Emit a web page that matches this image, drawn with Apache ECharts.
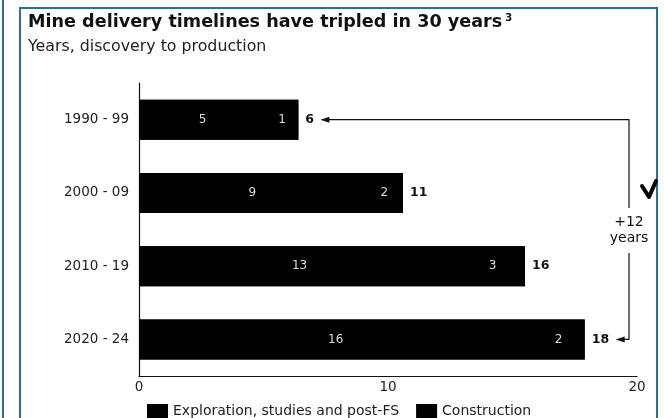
<!DOCTYPE html>
<html>
<head>
<meta charset="utf-8">
<script src="https://cdn.jsdelivr.net/npm/echarts@6/dist/echarts.min.js"></script>
<style>
html,body{margin:0;padding:0;background:#fff;}
#main{width:664px;height:418px;}
</style>
</head>
<body>
<div id="main"></div>
<script>
var categories = ['1990 - 99', '2000 - 09', '2010 - 19', '2020 - 24'];
var exploration = [5.1, 9.1, 12.9, 15.8];
var construction = [1.3, 1.5, 2.6, 2.1];
var explorationLabels = ['5', '9', '13', '16'];
var constructionLabels = ['1', '2', '3', '2'];
var totalLabels = ['6', '11', '16', '18'];
var xTicks = [0, 10, 20];

var totals = exploration.map(function (v, i) { return v + construction[i]; });
var FONT = 'DejaVu Sans';
var chart = echarts.init(document.getElementById('main'));

var option = {
  animation: false,
  backgroundColor: '#fff',
  title: {
    left: 28, top: 13, padding: 0,
    text: '{t|Mine delivery timelines have tripled in 30 years}{s|3}',
    subtext: 'Years, discovery to production',
    itemGap: 7,
    textStyle: {
      rich: {
        t: { fontFamily: FONT, fontWeight: 'bold', fontSize: 17.6, color: '#111' },
        s: { fontFamily: FONT, fontSize: 10, color: '#111', verticalAlign: 'top', padding: [0, 0, 9, 3] }
      }
    },
    subtextStyle: { fontFamily: FONT, fontSize: 15.8, color: '#222' }
  },
  legend: {
    left: 147, top: 404, padding: 0,
    itemWidth: 21, itemHeight: 14, itemGap: 17,
    icon: 'rect',
    textStyle: { fontFamily: FONT, fontSize: 14, color: '#222' },
    data: ['Exploration, studies and post-FS', 'Construction']
  },
  grid: { left: 139, right: 27, top: 83, bottom: 42, containLabel: false },
  xAxis: {
    type: 'value', min: xTicks[0], max: xTicks[xTicks.length - 1], interval: 10,
    axisLine: { show: true, lineStyle: { color: '#111', width: 1.2 } },
    axisTick: { show: false },
    splitLine: { show: false },
    axisLabel: { fontFamily: FONT, fontSize: 13.5, color: '#222', margin: 4 }
  },
  yAxis: {
    type: 'category', inverse: true, data: categories,
    axisLine: { show: true, lineStyle: { color: '#111', width: 1.2 } },
    axisTick: { show: false },
    axisLabel: { fontFamily: FONT, fontSize: 13.5, color: '#222', margin: 10 }
  },
  series: [
    {
      name: 'total', type: 'bar', barWidth: 40, barGap: '-100%',
      data: totals,
      itemStyle: { color: '#000' },
      label: { show: true, position: 'right', distance: 7, color: '#111', fontFamily: FONT, fontSize: 12.5, fontWeight: 'bold',
        formatter: function (p) { return totalLabels[p.dataIndex]; } },
      silent: true
    },
    {
      name: 'Exploration, studies and post-FS', type: 'bar', stack: 'total',
      data: exploration, barWidth: 40, barGap: '-100%',
      itemStyle: { color: '#000' },
      label: { show: true, position: 'inside', color: '#ddd', fontFamily: FONT, fontSize: 12,
        formatter: function (p) { return explorationLabels[p.dataIndex]; } }
    },
    {
      name: 'Construction', type: 'bar', stack: 'total',
      data: construction, barWidth: 40, barGap: '-100%',
      itemStyle: { color: '#000' },
      label: { show: true, position: 'inside', color: '#ddd', fontFamily: FONT, fontSize: 12,
        formatter: function (p) { return constructionLabels[p.dataIndex]; } }
    }
  ]
};
chart.setOption(option);

// Annotation bracket (+12 years)
var yTop = chart.convertToPixel({ yAxisIndex: 0 }, categories[0]);
var yBot = chart.convertToPixel({ yAxisIndex: 0 }, categories[3]);
var xTopEnd = chart.convertToPixel({ xAxisIndex: 0 }, totals[0]);
var xBotEnd = chart.convertToPixel({ xAxisIndex: 0 }, totals[3]);
var bx = 629;
var tipTop = xTopEnd + 22, tipBot = xBotEnd + 31;
var lineStyle = { stroke: '#111', lineWidth: 1.2 };
function head(x, y) {
  return { type: 'polygon', shape: { points: [[x, y], [x + 9, y - 3], [x + 9, y + 3]] }, style: { fill: '#111' } };
}
chart.setOption({
  graphic: [
    { type: 'rect', shape: { x: 20, y: 8, width: 637, height: 430 }, style: { fill: 'none', stroke: '#2b6e98', lineWidth: 2 }, silent: true },
    { type: 'line', shape: { x1: 3, y1: 0, x2: 3, y2: 418 }, style: { stroke: '#2b6e98', lineWidth: 2 } },
    { type: 'polyline', shape: { points: [[tipTop + 8, yTop], [bx, yTop], [bx, 208]] }, style: lineStyle },
    head(tipTop, yTop),
    { type: 'text', style: { x: bx, y: 222, text: '+12', align: 'center', verticalAlign: 'middle', fontFamily: FONT, fontSize: 14, fill: '#111' } },
    { type: 'text', style: { x: bx, y: 238, text: 'years', align: 'center', verticalAlign: 'middle', fontFamily: FONT, fontSize: 14, fill: '#111' } },
    { type: 'polyline', shape: { points: [[bx, 253], [bx, yBot], [tipBot + 8, yBot]] }, style: lineStyle },
    head(tipBot, yBot),
    { type: 'polyline', shape: { points: [[642, 186], [649, 197], [656, 181]] }, style: { stroke: '#000', lineWidth: 4, lineJoin: 'round', lineCap: 'round', fill: 'none' } }
  ]
});
</script>
</body>
</html>
